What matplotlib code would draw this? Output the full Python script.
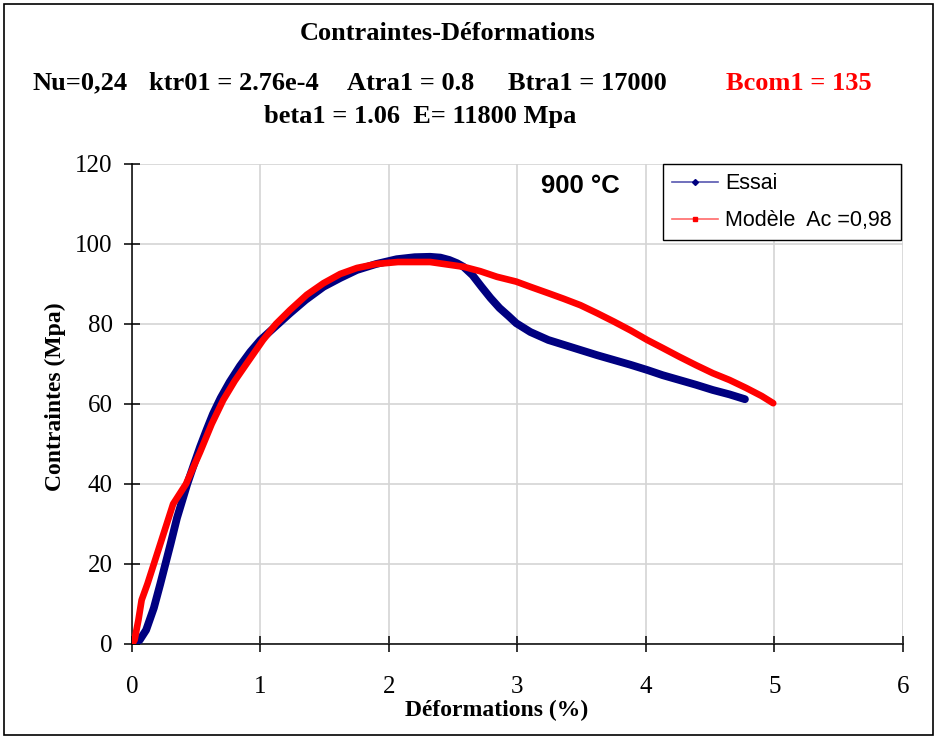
import matplotlib
matplotlib.use('Agg')
import matplotlib.pyplot as plt
from matplotlib.lines import Line2D
from matplotlib.patches import Rectangle

# data (deformation in %, stress in Mpa)
essai_x = [0, 0.02, 0.06, 0.11, 0.17, 0.22, 0.26, 0.30, 0.35, 0.43, 0.48, 0.53,
           0.58, 0.63, 0.69, 0.76, 0.84, 0.92, 1.0, 1.12, 1.23, 1.35, 1.49, 1.62,
           1.75, 1.9, 2.06, 2.2, 2.32, 2.40, 2.47, 2.53, 2.58, 2.65, 2.72, 2.79,
           2.86, 2.93, 2.99, 3.10, 3.24, 3.38, 3.49, 3.62, 3.75, 3.88, 4.01, 4.13,
           4.26, 4.39, 4.52, 4.65, 4.77]
essai_y = [0, 0.3, 1.0, 3.5, 9, 15, 20, 25, 31.5, 40, 44.7, 49.3,
           53.5, 57.5, 61.5, 65.5, 69.5, 73, 76, 79.5, 82.7, 86, 89.3, 91.5,
           93.5, 95, 96.2, 96.7, 96.8, 96.6, 96, 95.2, 94.3, 92.2, 89.3, 86.5,
           84, 82, 80.2, 78, 76, 74.6, 73.5, 72.2, 71, 69.8, 68.5, 67.2,
           66, 64.8, 63.5, 62.4, 61.2]

modele_x = [0, 0.02, 0.05, 0.075, 0.12, 0.16, 0.24, 0.32, 0.42, 0.53, 0.62,
            0.71, 0.8, 0.89, 1.02, 1.12, 1.23, 1.36, 1.49, 1.62, 1.75, 1.9, 2.07,
            2.19, 2.32, 2.45, 2.58, 2.71, 2.84, 2.99, 3.10, 3.24, 3.36, 3.49, 3.62,
            3.75, 3.88, 4.01, 4.13, 4.26, 4.39, 4.52, 4.65, 4.78, 4.9, 4.99]
modele_y = [0, 1, 6, 11, 15, 19, 27, 35, 40, 48, 55,
            61, 65.8, 70, 76, 80, 83.5, 87.3, 90.2, 92.5, 94, 95, 95.5,
            95.5, 95.5, 94.9, 94.3, 93.2, 91.8, 90.6, 89.3, 87.7, 86.3, 84.7, 82.7,
            80.6, 78.4, 76, 74, 71.8, 69.7, 67.7, 66, 64, 62, 60.2]

x_ticks = [0, 1, 2, 3, 4, 5, 6]
y_ticks = [0, 20, 40, 60, 80, 100, 120]

W, H = 937, 739
serif = 'Liberation Serif'
sans = 'Liberation Sans'

fig = plt.figure(figsize=(W / 100, H / 100), dpi=100)
fig.patches.append(Rectangle((4 / W, 4 / H), 929 / W, 731 / H, transform=fig.transFigure,
                             fill=False, edgecolor='black', linewidth=1.2))

ax = fig.add_axes([132 / W, 1 - 644 / H, 771 / W, 480 / H])
ax.plot(essai_x, essai_y, color='#000080', linewidth=5.6, solid_capstyle='round',
        solid_joinstyle='round', zorder=3)
ax.plot(modele_x, modele_y, color='#ff0000', linewidth=4.8, solid_capstyle='round',
        solid_joinstyle='round', zorder=4)

ax.set_xlim(0, 6)
ax.set_ylim(0, 120)
ax.set_xticks(x_ticks)
ax.set_yticks(y_ticks)
ax.grid(True, color='#d4d4d4', linewidth=1.2)
ax.set_axisbelow(True)
for s in ['top', 'right']:
    ax.spines[s].set_visible(False)
for s in ['left', 'bottom']:
    ax.spines[s].set_linewidth(1.1)
ax.tick_params(direction='inout', length=12, width=1.1, labelsize=18)
ax.tick_params(axis='x', pad=17)
ax.tick_params(axis='y', pad=8)
for lab in ax.get_xticklabels() + ax.get_yticklabels():
    lab.set_fontfamily(serif)

ax.set_xlabel('Déformations (%)', fontfamily=serif, fontweight='bold', fontsize=17)
ax.set_ylabel('Contraintes (Mpa)', fontfamily=serif, fontweight='bold', fontsize=17)
ax.xaxis.set_label_coords((497 - 132) / 771, -(710 - 644) / 480)
ax.yaxis.set_label_coords(-(132 - 55) / 771, (644 - 397) / 480)
ax.xaxis.label.set_va('center')
ax.yaxis.label.set_va('center')

ax.text(0.582, 0.955, '900 °C', transform=ax.transAxes, ha='center', va='center',
        fontfamily=sans, fontweight='bold', fontsize=18.5)

handles = [Line2D([], [], color='#5858b0', linewidth=1.2, marker='D', markersize=3,
                  markerfacecolor='#000080', markeredgecolor='#000080'),
           Line2D([], [], color='#ff6a6a', linewidth=1.2, marker='s', markersize=3,
                  markerfacecolor='#ff0000', markeredgecolor='#ff0000')]
leg = ax.legend(handles, ['Essai', 'Modèle  Ac =0,98'], loc='upper right',
                bbox_to_anchor=(1 - 2 / 771, 1), borderaxespad=0, fancybox=False,
                edgecolor='black', framealpha=1, handlelength=2.15, labelspacing=0.75,
                borderpad=0.42, handletextpad=0.33, prop={'family': sans, 'size': 15.5})
leg.get_frame().set_linewidth(1.0)

# header texts
tb = dict(fontfamily=serif, fontweight='bold', fontsize=19, va='center')
fig.text(448 / W, 1 - 33 / H, 'Contraintes-Déformations', ha='center', **tb)
fig.text(33 / W, 1 - 83 / H, 'Nu=0,24', ha='left', **tb)
fig.text(149 / W, 1 - 83 / H, 'ktr01 = 2.76e-4', ha='left', **tb)
fig.text(347 / W, 1 - 83 / H, 'Atra1 = 0.8', ha='left', **tb)
fig.text(508 / W, 1 - 83 / H, 'Btra1 = 17000', ha='left', **tb)
fig.text(726 / W, 1 - 83 / H, 'Bcom1 = 135', ha='left', color='#ff0000', **tb)
fig.text(420 / W, 1 - 117 / H, 'beta1 = 1.06  E= 11800 Mpa', ha='center', **tb)

fig.savefig('out.png', dpi=100)
